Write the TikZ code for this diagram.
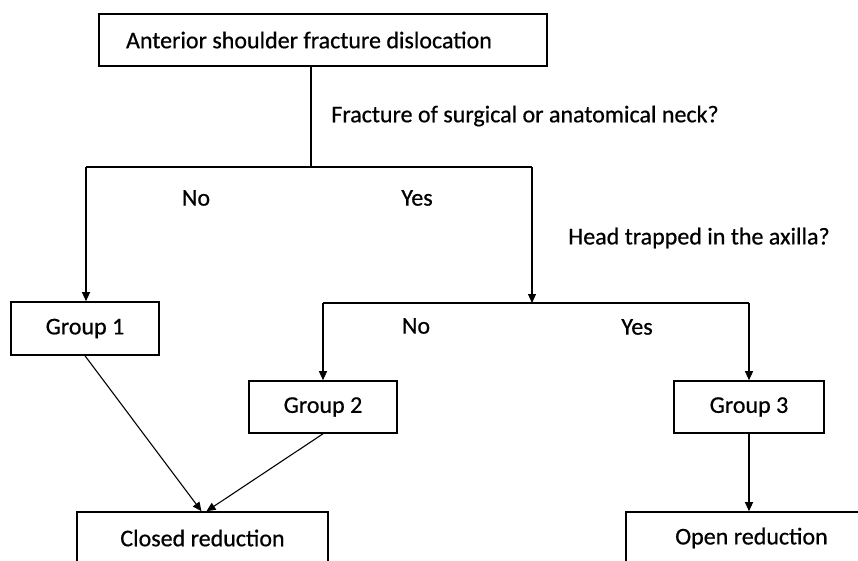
\documentclass[tikz,border=0pt]{standalone}
\usepackage{fontspec}
\setmainfont{Carlito}[FakeBold=0.6]
\usetikzlibrary{arrows.meta,calc}
\begin{document}
\begin{tikzpicture}[x=1pt,y=-1pt,
  box/.style={draw=black,line width=1.6pt,minimum height=52pt,inner sep=0pt},
  lbl/.style={font=\fontsize{24}{28}\selectfont,inner sep=0pt},
  conn/.style={line width=1.1pt},
  arr/.style={conn,-{Triangle[length=9pt,width=8pt]}}]
\useasboundingbox (0,0) rectangle (858,560);
\clip (0,0) rectangle (858,560);
% boxes
\node[box,minimum width=448pt] (top) at (323,40) {};
\node[lbl] (toptext) at (309,40) {Anterior shoulder fracture dislocation};
\node[box,lbl,minimum width=148pt,minimum height=53pt] (g1) at (85,328.5) {Group 1};
\node[box,lbl,minimum width=148pt] (g2) at (323,407) {Group 2};
\node[box,lbl,minimum width=150pt] (g3) at (749,407) {Group 3};
\node[box,lbl,minimum width=251pt] (closed) at (202.5,538) {Closed reduction};
\node[box,lbl,minimum width=251pt] (open) at (751.5,538) {Open reduction};
% labels
\node[lbl] (q1) at (525,116) {Fracture of surgical or anatomical neck?};
\node[lbl] (no1) at (196,198) {No};
\node[lbl] (yes1) at (417,198) {Yes};
\node[lbl] (q2) at (699,238) {Head trapped in the axilla?};
\node[lbl] (no2) at (416,326) {No};
\node[lbl] (yes2) at (637,327) {Yes};
% junctions
\coordinate (j1) at (311,167);
\coordinate (j1l) at (86,167);
\coordinate (j1r) at (532,167);
\coordinate (j2) at (532,303);
\coordinate (j2l) at (323,303);
\coordinate (j2r) at (749,303);
% connectors
\draw[conn] (top.south -| j1) -- (j1);
\draw[conn] (j1l) -- (j1r);
\draw[arr] (j1l) -- (j1l |- g1.north);
\draw[arr] (j1r) -- (j2);
\draw[conn] (j2l) -- (j2r);
\draw[arr] (j2l) -- (g2.north);
\draw[arr] (j2r) -- (g3.north);
\draw[arr] (g1.south) -- ([xshift=-1pt]closed.north);
\draw[arr] (g2.south) -- ([xshift=4pt]closed.north);
\draw[arr] (g3.south) -- (g3.south |- open.north);
\end{tikzpicture}
\end{document}
